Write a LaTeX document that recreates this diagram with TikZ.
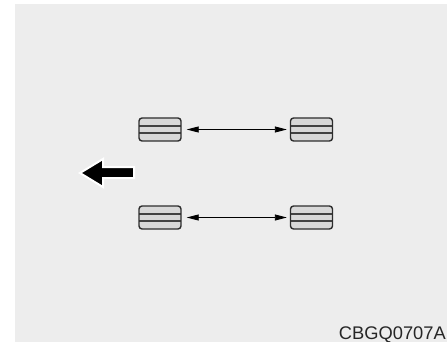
\documentclass[tikz,border=0pt]{standalone}
\usepackage{fontspec}
\setmainfont{Liberation Sans}
\usetikzlibrary{arrows.meta,positioning}
\definecolor{panelgray}{RGB}{237, 237, 237}
\definecolor{padgray}{RGB}{216, 216, 216}
\definecolor{edgegray}{RGB}{45, 45, 45}

\begin{document}
\begin{tikzpicture}[x=1pt, y=-1pt,
    pad/.style={rectangle, draw=edgegray, fill=padgray, line width=1.4pt,
        rounded corners=3pt, minimum width=42pt, minimum height=23pt, inner sep=0pt,
        path picture={
            \draw[edgegray!90, line width=1.2pt]
                ([yshift=3.5pt]path picture bounding box.west) -- ([yshift=3.5pt]path picture bounding box.east)
                ([yshift=-3.5pt]path picture bounding box.west) -- ([yshift=-3.5pt]path picture bounding box.east);}},
    link/.style={line width=0.9pt, black, {Triangle[length=12pt, width=6pt]}-{Triangle[length=12pt, width=6pt]},
        shorten <=5pt, shorten >=3pt},
    bigarrow/.style={fill=black, draw=white, line width=2pt, line join=miter}]

\useasboundingbox (0,0) rectangle (447,342);
% Panel
\fill[panelgray] (15,4) rectangle (447,342);

% Upper pair
\node[pad] (ul) at (160,129.5) {};
\node[pad] (ur) at (311.5,129.5) {};
% Lower pair
\node[pad] (ll) at (160,217.5) {};
\node[pad] (lr) at (311.5,217.5) {};

% Links
\draw[link] (ul) -- (ur);
\draw[link] (ll) -- (lr);

% Direction arrow
\draw[bigarrow] (80,173) -- (103,159) -- (103,167) -- (134,167) -- (134,178)
    -- (103,178) -- (103,187) -- cycle;

% Code
\node[anchor=base east, inner sep=0pt, font=\fontsize{18.3}{20}\selectfont, text=black!85] (code)
    at (446,339.5) {CBGQ0707A};

\end{tikzpicture}
\end{document}
